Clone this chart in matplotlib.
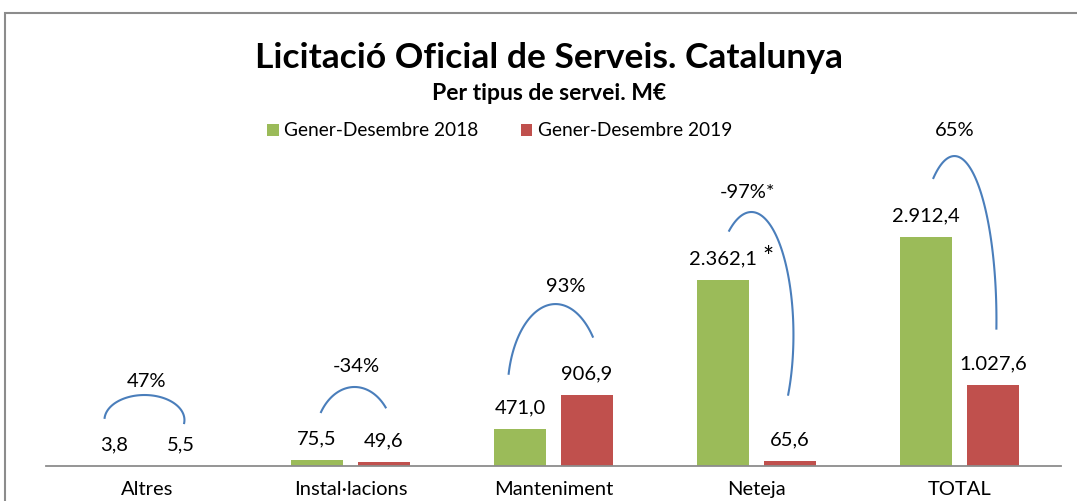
import numpy as np
import matplotlib
matplotlib.use('Agg')
import matplotlib.pyplot as plt
from matplotlib.patches import Rectangle

plt.rcParams['font.family'] = ['Lato', 'DejaVu Sans']

# data (M EUR)
categories = ['Altres', 'Instal·lacions', 'Manteniment', 'Neteja', 'TOTAL']
values_2018 = [3.8, 75.5, 471.0, 2362.1, 2912.4]
values_2019 = [5.5, 49.6, 906.9, 65.6, 1027.6]
labels_2018 = ['3,8', '75,5', '471,0', '2.362,1', '2.912,4']
labels_2019 = ['5,5', '49,6', '906,9', '65,6', '1.027,6']
pct_labels = ['47%', '-34%', '93%', '-97%*', '65%']
series_names = ['Gener-Desembre 2018', 'Gener-Desembre 2019']

GREEN = '#9BBB59'
RED = '#C0504D'
BLUE = '#4A7EBB'

# arc shapes (ellipse pieces): x offset, y centre, semi-axes, angle range
arcs = [
    (-0.015, 585, 0.197, 318, -7, 175),
    (0.020, 305, 0.197, 700, 39, 147),
    (0.010, 941, 0.236, 1119, 39, 168),
    (-0.025, 1666, 0.207, 1565, -29, 122),
    (-0.025, 1857, 0.207, 2086, -3, 120),
]
pct_offsets = [(2, 14), (2, 20), (10, 18), (-4, 20), (0, 26)]

fig = plt.figure(figsize=(10.77, 5.01), dpi=100)
ax = fig.add_axes([46 / 1077, 35 / 501, 1015 / 1077, 366 / 501])

x = np.arange(len(categories))
w = 0.26
off = 0.165
b1 = ax.bar(x - off, values_2018, w, color=GREEN, label=series_names[0])
b2 = ax.bar(x + off, values_2019, w, color=RED, label=series_names[1])

ax.set_xlim(-0.5, len(categories) - 0.5)
ax.set_ylim(0, 4656)
ax.set_yticks([])
ax.set_xticks(x)
ax.set_xticklabels(categories, fontsize=14.5)
ax.tick_params(axis='x', length=0, pad=11)
for s in ['top', 'right', 'left']:
    ax.spines[s].set_visible(False)
ax.spines['bottom'].set_color('#8c8c8c')
ax.spines['bottom'].set_linewidth(1.3)

for i in range(len(categories)):
    ax.annotate(labels_2018[i], (x[i] - off, values_2018[i]), xytext=(0, 21),
                textcoords='offset pixels', ha='center', va='center', fontsize=14.5)
    ax.annotate(labels_2019[i], (x[i] + off, values_2019[i]), xytext=(0, 21),
                textcoords='offset pixels', ha='center', va='center', fontsize=14.5)
# asterisk on Neteja 2018
ax.annotate('*', (x[3] - off, values_2018[3]), xytext=(45, 22),
            textcoords='offset pixels', ha='center', va='center', fontsize=19)

# arcs and percent labels
for i, (dx, cy, a, b, t1, t2) in enumerate(arcs):
    t = np.radians(np.linspace(t1, t2, 100))
    cx = x[i] + dx
    ax.plot(cx + a * np.cos(t), cy + b * np.sin(t), color=BLUE, lw=1.5)
    ax.annotate(pct_labels[i], (cx, cy + b), xytext=pct_offsets[i],
                textcoords='offset pixels', ha='center', va='center', fontsize=14.5)

fig.text(0.51, 1 - 58 / 501, 'Licitació Oficial de Serveis. Catalunya',
         ha='center', va='center', fontsize=25.5, fontweight='bold')
fig.text(0.51, 1 - 94 / 501, 'Per tipus de servei. M€',
         ha='center', va='center', fontsize=16.5, fontweight='bold')

fig.legend(handles=[b1, b2], loc='center', bbox_to_anchor=(0.464, 1 - 131 / 501),
           ncol=2, frameon=False, fontsize=13.8, handlelength=0.6, handleheight=0.6,
           handletextpad=0.3, columnspacing=2.2)

# outer frame
fig.patches.append(Rectangle((5 / 1077, -0.2), 1.2, 1.2 - 13 / 501,
                             transform=fig.transFigure, fill=False,
                             edgecolor='#8c8c8c', lw=1.5))

fig.savefig('out.png', dpi=100)
